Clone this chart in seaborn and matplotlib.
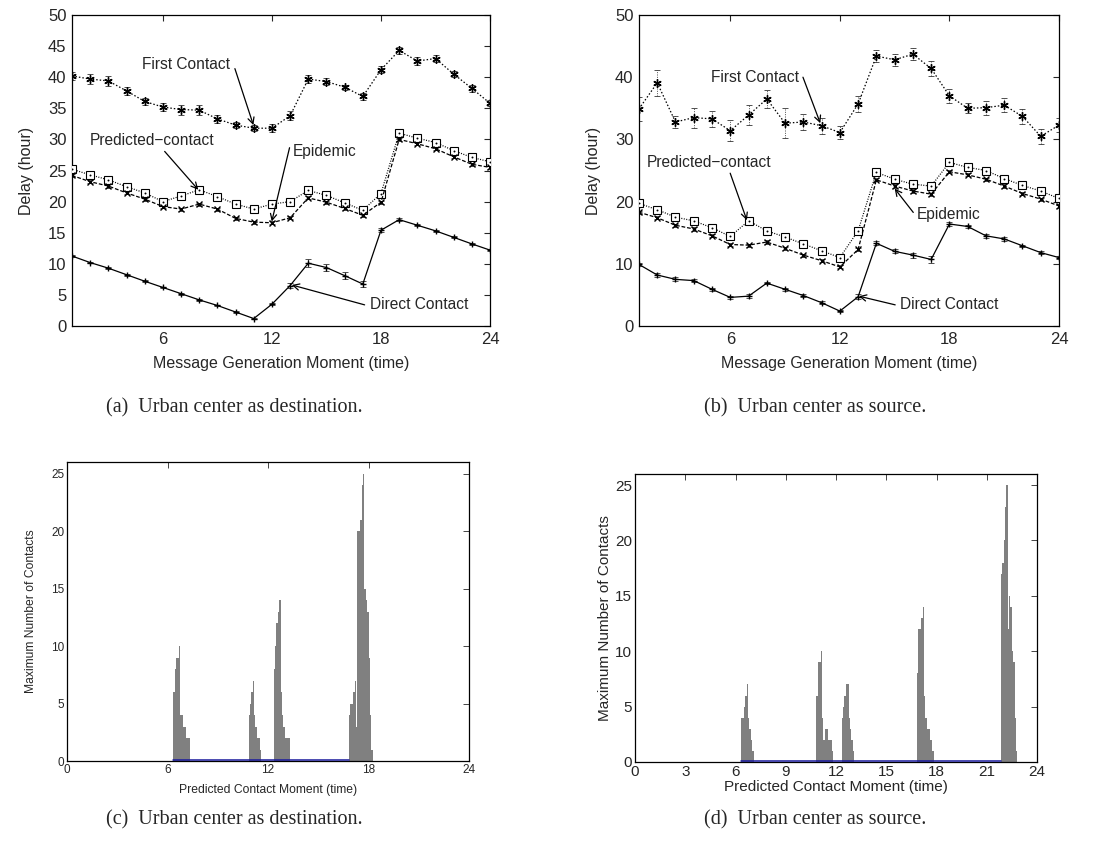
import numpy as np
import pandas as pd
import matplotlib
matplotlib.use("Agg")
import matplotlib.pyplot as plt
import seaborn as sns

# ---------------- data ----------------
hours = list(range(1, 25))

# (a) Urban center as destination
a_first = [40.2, 39.7, 39.4, 37.8, 36.1, 35.2, 34.8, 34.7, 33.3, 32.3, 31.8, 31.8,
           33.8, 39.7, 39.3, 38.4, 36.9, 41.2, 44.3, 42.6, 43.0, 40.5, 38.2, 35.8]
a_first_err = [0.7, 0.8, 0.8, 0.7, 0.6, 0.6, 0.8, 0.8, 0.7, 0.5, 0.5, 0.6,
               0.7, 0.6, 0.5, 0.4, 0.5, 0.6, 0.5, 0.6, 0.6, 0.5, 0.5, 0.5]
a_pred = [25.2, 24.3, 23.5, 22.4, 21.4, 20.0, 20.9, 21.9, 20.8, 19.6, 18.8, 19.6,
          20.0, 21.8, 21.0, 19.8, 18.6, 21.3, 31.0, 30.2, 29.5, 28.2, 27.1, 26.4]
a_pred_err = [0.3] * 24
a_epi = [24.2, 23.2, 22.5, 21.4, 20.4, 19.2, 18.8, 19.6, 18.8, 17.3, 16.7, 16.6,
         17.4, 20.6, 19.9, 18.9, 17.8, 19.9, 30.0, 29.3, 28.5, 27.2, 26.0, 25.5]
a_epi_err = [0.25] * 24
a_direct = [11.25, 10.2, 9.3, 8.25, 7.2, 6.2, 5.2, 4.2, 3.3, 2.25, 1.2, 3.5,
            6.5, 10.1, 9.4, 8.1, 6.75, 15.4, 17.1, 16.2, 15.3, 14.25, 13.2, 12.2]
a_direct_err = [0.15, 0.15, 0.15, 0.15, 0.15, 0.15, 0.15, 0.15, 0.15, 0.15, 0.15, 0.2,
                0.4, 0.6, 0.6, 0.6, 0.5, 0.3, 0.2, 0.15, 0.15, 0.15, 0.15, 0.15]

# (b) Urban center as source
b_first = [34.9, 39.1, 32.8, 33.5, 33.3, 31.4, 33.9, 36.5, 32.6, 32.8, 32.2, 31.1,
           35.7, 43.4, 42.8, 43.7, 41.4, 37.0, 35.0, 35.1, 35.5, 33.7, 30.5, 32.3]
b_first_err = [1.9, 2.1, 1.0, 1.6, 1.3, 1.7, 1.6, 1.4, 2.4, 1.3, 1.3, 1.1,
               1.3, 1.0, 1.0, 1.0, 1.2, 1.1, 0.8, 1.1, 1.1, 1.2, 1.2, 1.1]
b_pred = [19.7, 18.7, 17.5, 16.9, 15.8, 14.4, 16.9, 15.3, 14.3, 13.2, 12.1, 11.0,
          15.3, 24.7, 23.6, 22.8, 22.5, 26.3, 25.5, 25.0, 23.7, 22.6, 21.7, 20.5]
b_pred_err = [0.3] * 24
b_epi = [18.3, 17.4, 16.2, 15.6, 14.5, 13.1, 13.0, 13.5, 12.5, 11.4, 10.5, 9.5,
         12.3, 23.5, 22.5, 21.7, 21.2, 24.8, 24.3, 23.6, 22.5, 21.3, 20.4, 19.3]
b_epi_err = [0.25] * 24
b_direct = [9.9, 8.2, 7.5, 7.3, 5.9, 4.6, 4.8, 6.9, 5.9, 4.9, 3.75, 2.4,
            4.7, 13.3, 12.0, 11.4, 10.7, 16.4, 16.0, 14.5, 14.0, 12.9, 11.8, 11.0]
b_direct_err = [0.3, 0.4, 0.3, 0.3, 0.2, 0.3, 0.3, 0.2, 0.2, 0.2, 0.2, 0.2,
                0.4, 0.3, 0.3, 0.4, 0.5, 0.4, 0.3, 0.3, 0.3, 0.2, 0.3, 0.3]

# (c)/(d) maximum number of contacts in 5-minute bins: cluster start hour + counts
c_starts = [6.33, 10.83, 12.33, 16.83]
c_counts = [
    [6, 8, 9, 9, 10, 4, 4, 3, 3, 2, 2, 2],
    [4, 5, 6, 7, 4, 3, 2, 2, 1],
    [8, 10, 12, 13, 14, 6, 4, 3, 2, 2, 2, 2],
    [4, 5, 5, 6, 7, 3, 20, 20, 21, 24, 25, 15, 14, 13, 9, 4, 1],
]
d_starts = [6.33, 10.83, 12.33, 16.83, 21.83]
d_counts = [
    [4, 4, 5, 6, 7, 4, 3, 2, 1],
    [6, 9, 9, 10, 4, 2, 3, 3, 2, 2, 2, 1],
    [4, 5, 6, 7, 7, 4, 3, 2, 1],
    [8, 12, 12, 13, 14, 6, 4, 3, 3, 2, 2, 1],
    [17, 18, 20, 23, 25, 12, 15, 14, 10, 9, 4, 1],
]
BIN = 1.0 / 12.0

# ---------------- style ----------------
sns.set_style("white")
plt.rcParams["font.family"] = ["Liberation Sans", "DejaVu Sans"]
plt.rcParams["xtick.direction"] = "in"
plt.rcParams["ytick.direction"] = "in"

fig = plt.figure(figsize=(10.99, 8.47), dpi=100)

ax_a = fig.add_axes([0.0655, 0.6151, 0.3804, 0.3672])
ax_b = fig.add_axes([0.5814, 0.6151, 0.3822, 0.3672])
ax_c = fig.add_axes([0.0610, 0.1015, 0.3658, 0.3530])
ax_d = fig.add_axes([0.5778, 0.1004, 0.3658, 0.3400])


def delay_panel(ax, first, first_err, pred, pred_err, epi, epi_err, direct, direct_err, yticks):
    specs = [
        (first, first_err, (0, (1.2, 1.6)),
         dict(marker=(6, 2, 0), markersize=6, markeredgewidth=1.0)),
        (pred, pred_err, (0, (0.8, 1.2)),
         dict(marker="s", markersize=5.5, markerfacecolor="white", markeredgewidth=0.8)),
        (epi, epi_err, (0, (3, 1.5)),
         dict(marker="x", markersize=5, markeredgewidth=1.0)),
        (direct, direct_err, "-",
         dict(marker="+", markersize=5, markeredgewidth=1.0)),
    ]
    for vals, err, ls, kw in specs:
        eb = ax.errorbar(hours, vals, yerr=err, fmt="none", ecolor="#333333", elinewidth=0.6,
                         capsize=2.5, capthick=0.6, zorder=2)
        if ls != "-":
            for col in eb[2]:
                col.set_linestyle(ls)
        sns.lineplot(x=hours, y=vals, ax=ax, color="black", linewidth=0.9, linestyle=ls,
                     markeredgecolor="black", zorder=3, **kw)
        if kw["marker"] == "s":
            sns.scatterplot(x=hours, y=vals, ax=ax, color="black", s=2, linewidth=0, zorder=4)
    ax.set_xlim(1, 24)
    ax.set_ylim(0, 50)
    ax.set_xticks([6, 12, 18, 24])
    ax.set_yticks(yticks)
    ax.tick_params(axis="both", labelsize=12, top=True, right=True, length=4, width=0.8, pad=4)
    ax.set_xlabel("Message Generation Moment (time)", fontsize=11.5, labelpad=7)
    ax.set_ylabel("Delay (hour)", fontsize=11.5, labelpad=10)
    for s in ax.spines.values():
        s.set_linewidth(0.9)
        s.set_color("black")


delay_panel(ax_a, a_first, a_first_err, a_pred, a_pred_err, a_epi, a_epi_err,
            a_direct, a_direct_err, list(range(0, 51, 5)))
delay_panel(ax_b, b_first, b_first_err, b_pred, b_pred_err, b_epi, b_epi_err,
            b_direct, b_direct_err, list(range(0, 51, 10)))

arrow = dict(arrowstyle="->", color="black", lw=0.9, shrinkA=0, shrinkB=0)
fs_ann = 11.2
# annotations (a)
ax_a.annotate("First Contact", xy=(10.98, 32.3), xytext=(7.3, 42.1), ha="center", va="center",
              fontsize=fs_ann, arrowprops=dict(arrow, relpos=(1.05, 0.2)))
ax_a.annotate("Predicted\u2212contact", xy=(7.95, 21.9), xytext=(5.4, 29.8), ha="center", va="center",
              fontsize=fs_ann, arrowprops=dict(arrow, relpos=(0.6, -0.2)))
ax_a.annotate("Epidemic", xy=(11.99, 16.8), xytext=(13.15, 28.0), ha="left", va="center",
              fontsize=fs_ann, arrowprops=dict(arrow, relpos=(-0.05, 0.8)))
ax_a.annotate("Direct Contact", xy=(13.09, 6.6), xytext=(17.37, 3.4), ha="left", va="center",
              fontsize=fs_ann, arrowprops=dict(arrow, relpos=(-0.05, 0.5)))
# annotations (b)
ax_b.annotate("First Contact", xy=(10.93, 32.6), xytext=(7.33, 40.0), ha="center", va="center",
              fontsize=fs_ann, arrowprops=dict(arrow, relpos=(1.05, 0.5)))
ax_b.annotate("Predicted\u2212contact", xy=(6.91, 17.0), xytext=(4.83, 26.3), ha="center", va="center",
              fontsize=fs_ann, arrowprops=dict(arrow, relpos=(0.67, -0.2)))
ax_b.annotate("Epidemic", xy=(15.0, 22.1), xytext=(16.2, 18.0), ha="left", va="center",
              fontsize=fs_ann, arrowprops=dict(arrow, relpos=(-0.05, 0.6)))
ax_b.annotate("Direct Contact", xy=(13.04, 4.8), xytext=(15.3, 3.4), ha="left", va="center",
              fontsize=fs_ann, arrowprops=dict(arrow, relpos=(-0.05, 0.5)))


def contact_panel(ax, starts, counts, xticks, tick_fs, label_fs, xlabelpad, ylabelpad):
    xs, ws = [], []
    for st, cnt in zip(starts, counts):
        i0 = int(round(st / BIN))
        for k, v in enumerate(cnt):
            xs.append((i0 + k + 0.5) * BIN)
            ws.append(float(v))
    df = pd.DataFrame({"t": xs, "n": ws})
    sns.histplot(data=df, x="t", weights="n", binwidth=BIN, binrange=(0, 24), ax=ax,
                 color="#808080", edgecolor="none", linewidth=0, alpha=1.0)
    ax.plot([starts[0], starts[-1]], [0.05, 0.05], color="#1a1a9c", lw=1.1, zorder=5, clip_on=False)
    ax.set_xlim(0, 24)
    ax.set_ylim(0, 26)
    ax.set_xticks(xticks)
    ax.set_yticks([0, 5, 10, 15, 20, 25])
    ax.tick_params(axis="both", labelsize=tick_fs, top=True, right=True, length=4, width=0.6, pad=2)
    ax.set_xlabel("Predicted Contact Moment (time)", fontsize=label_fs, labelpad=xlabelpad)
    ax.set_ylabel("Maximum Number of Contacts", fontsize=label_fs, labelpad=ylabelpad)
    for s in ax.spines.values():
        s.set_linewidth(0.9)
        s.set_color("black")


contact_panel(ax_c, c_starts, c_counts, [0, 6, 12, 18, 24], 8.5, 8.7, 6, 10)
contact_panel(ax_d, d_starts, d_counts, list(range(0, 25, 3)), 11, 11, 1, 2)

# captions
cap_kw = dict(fontsize=14.5, family=["Liberation Serif", "DejaVu Serif"], ha="center", va="center")
fig.text(0.213, 1 - 408 / 847, "(a)  Urban center as destination.", **cap_kw)
fig.text(0.742, 1 - 408 / 847, "(b)  Urban center as source.", **cap_kw)
fig.text(0.213, 1 - 820 / 847, "(c)  Urban center as destination.", **cap_kw)
fig.text(0.742, 1 - 820 / 847, "(d)  Urban center as source.", **cap_kw)

fig.savefig("out.png", dpi=100, facecolor="white")
